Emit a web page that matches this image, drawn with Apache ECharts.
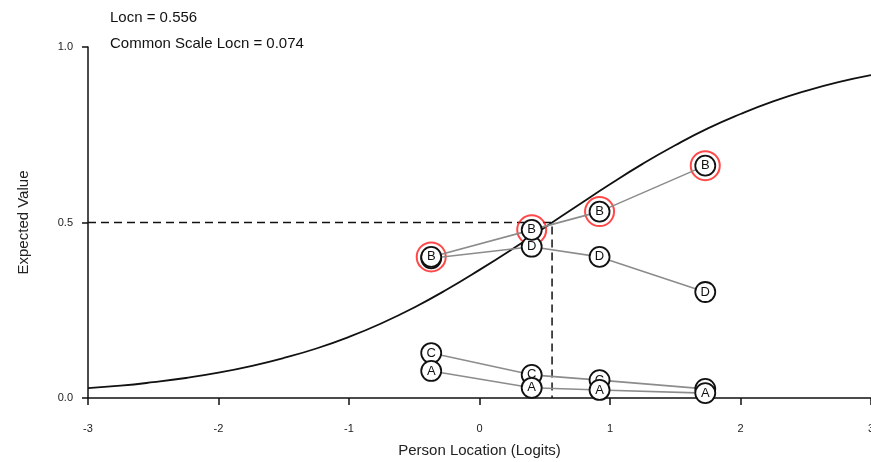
<!DOCTYPE html>
<html>
<head>
<meta charset="utf-8">
<script src="https://cdn.jsdelivr.net/npm/echarts@6/dist/echarts.min.js"></script>
<style>html,body{margin:0;padding:0;background:#fff}#c{width:871px;height:462px}</style>
</head>
<body>
<div id="c"></div>
<script>
// Data
const locn = 0.556;
const commonLocn = 0.074;
const xTicks = [-3, -2, -1, 0, 1, 2, 3];
const yTicks = [0, 0.5, 1];
const curveX = [-3, -2.75, -2.5, -2.25, -2, -1.75, -1.5, -1.25, -1, -0.75, -0.5, -0.25, 0, 0.25, 0.5, 0.75, 1, 1.25, 1.5, 1.75, 2, 2.25, 2.5, 2.75, 3];
const curveY = [0.028, 0.035, 0.045, 0.057, 0.072, 0.091, 0.114, 0.141, 0.174, 0.213, 0.258, 0.309, 0.365, 0.424, 0.486, 0.548, 0.609, 0.667, 0.720, 0.768, 0.809, 0.845, 0.875, 0.900, 0.920];
const groupX = [-0.37, 0.40, 0.92, 1.73];
const valuesA = [0.077, 0.029, 0.023, 0.014];
const valuesB = [0.402, 0.479, 0.531, 0.662];
const valuesC = [0.128, 0.066, 0.051, 0.026];
const valuesD = [0.398, 0.431, 0.402, 0.302];

const FONT = 'Liberation Sans';
const chart = echarts.init(document.getElementById('c'));

function pts(vals) { return groupX.map((x, i) => [x, vals[i]]); }
function catSeries(name, vals, z) {
  return {
    name: name, type: 'line', data: pts(vals), z: z,
    symbol: 'circle', symbolSize: 20, showSymbol: true,
    lineStyle: { color: '#8c8c8c', width: 1.6 },
    itemStyle: { color: '#fff', borderColor: '#111', borderWidth: 1.8 },
    label: { show: true, position: 'inside', formatter: name, color: '#111', fontFamily: FONT, fontSize: 13 },
    animation: false
  };
}

chart.setOption({
  animation: false,
  grid: { left: 88, right: 0, top: 47, bottom: 64, containLabel: false, outerBoundsMode: 'none' },
  xAxis: {
    type: 'value', min: -3, max: 3, interval: 1,
    axisLine: { onZero: false, lineStyle: { color: '#111', width: 1.5 } },
    axisTick: { length: 7, lineStyle: { color: '#111', width: 1.5 } },
    axisLabel: { margin: 25, color: '#222', fontSize: 11, fontFamily: FONT, hideOverlap: false,
      formatter: v => xTicks.includes(v) ? String(v) : '' },
    splitLine: { show: false },
    name: 'Person Location (Logits)', nameLocation: 'middle', nameGap: 45,
    nameTextStyle: { color: '#222', fontSize: 15, fontFamily: FONT }
  },
  yAxis: {
    type: 'value', min: 0, max: 1, interval: 0.5,
    axisLine: { show: true, onZero: false, lineStyle: { color: '#111', width: 1.5 } },
    axisTick: { show: true, length: 6, lineStyle: { color: '#111', width: 1.5 } },
    axisLabel: { margin: 15, color: '#222', fontSize: 11, fontFamily: FONT,
      formatter: v => yTicks.includes(v) ? v.toFixed(1) : '' },
    splitLine: { show: false },
    name: 'Expected Value', nameLocation: 'middle', nameGap: 57,
    nameTextStyle: { color: '#222', fontSize: 15, fontFamily: FONT }
  },
  graphic: [
    { type: 'text', left: 110, top: 10, style: { text: 'Locn = ' + locn.toFixed(3), fill: '#111', font: '15px "Liberation Sans"' } },
    { type: 'text', left: 110, top: 36, style: { text: 'Common Scale Locn = ' + commonLocn.toFixed(3), fill: '#111', font: '15px "Liberation Sans"' } }
  ],
  series: [
    {
      type: 'line', data: curveX.map((x, i) => [x, curveY[i]]), smooth: true, showSymbol: false,
      lineStyle: { color: '#111', width: 1.8 }, z: 2
    },
    {
      type: 'line', data: [[-3, 0.5], [locn, 0.5], [locn, 0]], showSymbol: false,
      lineStyle: { color: '#111', width: 1.5, type: [8, 5] }, z: 2
    },
    {
      type: 'scatter', data: pts(valuesB), symbol: 'circle', symbolSize: 29, z: 3,
      itemStyle: { color: 'rgba(255,255,255,0)', borderColor: '#ff1a1a', borderWidth: 2 }
    },
    catSeries('C', valuesC, 4),
    catSeries('A', valuesA, 5),
    catSeries('D', valuesD, 6),
    catSeries('B', valuesB, 7)
  ]
});
</script>
</body>
</html>
